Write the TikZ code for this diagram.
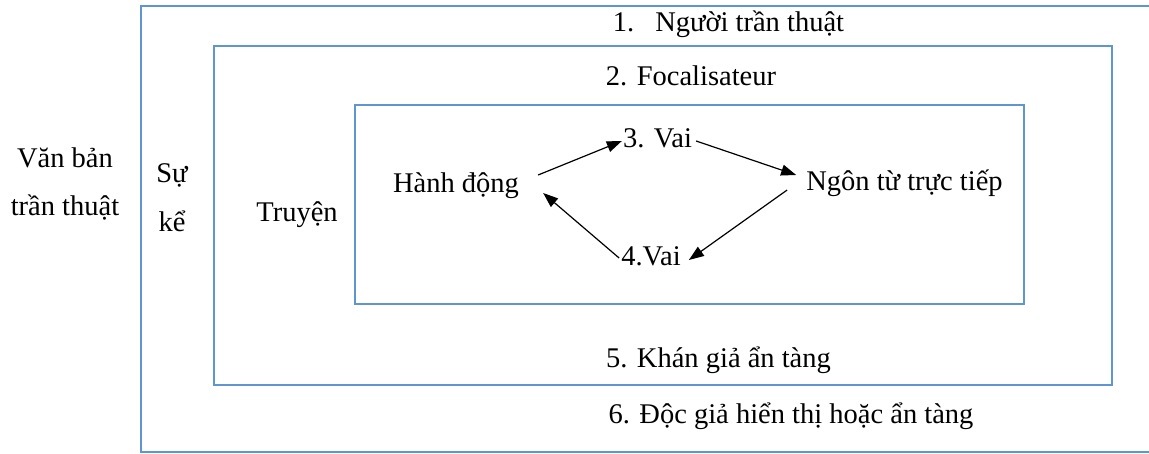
\documentclass[tikz,border=0pt]{standalone}
\usepackage{fontspec}
\setmainfont{Liberation Serif}
\usetikzlibrary{arrows.meta}
\definecolor{frameblue}{RGB}{96,150,208}
\tikzset{
  lbl/.style={inner sep=0pt, font=\fontsize{28.5}{34}\selectfont, text height=20pt, text depth=6pt},
  mlbl/.style={inner sep=0pt, align=center},
  frame/.style={draw=frameblue, line width=2.4pt},
  arr/.style={line width=1.2pt, -{Triangle[length=15pt,width=11pt]}}
}
\begin{document}
\begin{tikzpicture}[x=1pt,y=-1pt]
\useasboundingbox (0,0) rectangle (1149,454);
\fill[white] (0,0) rectangle (1149,454);
% frames
\draw[frame] (141,6) rectangle (1160,452);
\draw[frame] (214,46) rectangle (1112,385);
\draw[frame] (355,105) rectangle (1024,304);
% labels
\node[lbl] (t1) at (728.5,25) {1.\hspace{21pt}Người trần thuật};
\node[lbl] (t2) at (691,79) {2. Focalisateur};
\node[lbl] (vai3) at (657.5,141) {3. Vai};
\node[lbl] (hanh) at (456,186) {Hành động};
\node[lbl] (ngon) at (904.5,184) {Ngôn từ trực tiếp};
\node[lbl] (vai4) at (651,259) {4.Vai};
\node[lbl] (truyen) at (297,215) {Truyện};
\node[mlbl, font=\fontsize{28.5}{49}\selectfont] (su) at (172,197.5) {Sự\\kể};
\node[mlbl, font=\fontsize{28.5}{48}\selectfont] (van) at (65,184) {Văn bản\\trần thuật};
\node[lbl] (t5) at (718.5,360) {5. Khán giả ẩn tàng};
\node[lbl] (t6) at (791,416) {6. Độc giả hiển thị hoặc ẩn tàng};
% arrows
\draw[arr] ([shift={(19,-11)}]hanh.east) -- ([shift={(-1,0)}]vai3.west);
\draw[arr] ([shift={(4,0)}]vai3.east) -- ([shift={(-10,-9)}]ngon.west);
\draw[arr] ([shift={(-19,6)}]ngon.west) -- ([shift={(8,1)}]vai4.east);
\draw[arr] ([shift={(-2,-1)}]vai4.west) -- ([shift={(24,7)}]hanh.east);
\end{tikzpicture}
\end{document}
